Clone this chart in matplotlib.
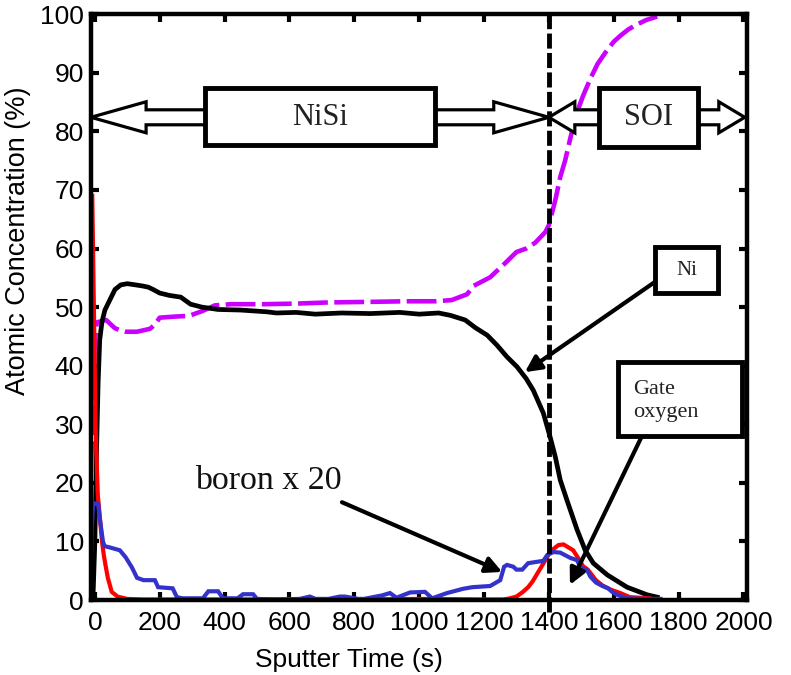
import numpy as np
import matplotlib
matplotlib.use("Agg")
import matplotlib.pyplot as plt
from matplotlib.patches import Polygon, Rectangle

# depth profile, (sputter time s, atomic concentration %)
si_profile = [
    (-12, 22), (-8, 30), (-4, 38), (0, 44), (6, 47.4), (20, 47.6), (35, 47.8),
    (50, 47), (62, 46.4), (80, 46), (95, 45.8), (130, 45.8), (170, 46.3),
    (185, 47), (200, 48.2), (250, 48.4), (290, 48.5), (330, 49.3), (370, 50.3),
    (420, 50.5), (520, 50.5), (620, 50.6), (720, 50.8), (850, 50.9), (960, 51),
    (1050, 51), (1100, 51.2), (1148, 52.2), (1167, 53.6), (1219, 55.1),
    (1265, 57.5), (1300, 59.4), (1330, 60), (1358, 61), (1389, 62.8),
    (1400, 64), (1420, 68.3), (1435, 72.2), (1450, 75), (1466, 78.8),
    (1485, 83), (1505, 86), (1528, 89), (1550, 91.5), (1575, 93.5),
    (1600, 95.3), (1620, 96.3), (1645, 97.4), (1670, 98.2), (1700, 99),
    (1734, 99.6),
]
ni_profile = [
    (-6, 0), (0, 10), (5, 25), (10, 37), (15, 44.4), (22, 47.5), (31, 49.5),
    (46, 51.2), (62, 53), (80, 53.8), (100, 54), (125, 53.8), (148, 53.6),
    (165, 53.4), (180, 53), (200, 52.4), (230, 52), (265, 51.7), (295, 50.5),
    (330, 50), (380, 49.6), (450, 49.5), (530, 49.2), (560, 49), (620, 49.1),
    (680, 48.8), (760, 49), (850, 48.9), (940, 49.1), (1000, 48.8), (1060, 49),
    (1096, 48.6), (1142, 47.8), (1173, 46.5), (1210, 45.2), (1240, 43.5),
    (1271, 41.5), (1302, 39.8), (1330, 37.8), (1352, 35.8), (1383, 31.9),
    (1404, 27.8), (1420, 24.4), (1435, 20.5), (1456, 17), (1487, 12),
    (1512, 8.5), (1537, 6.3), (1580, 4.3), (1641, 2.2), (1703, 0.9), (1734, 0.5),
]
o_profile = [
    (-8, 69), (-3, 50), (2, 30), (6, 23), (9, 18), (14, 15), (18, 12.5),
    (22, 10), (28, 7.5), (34, 5.6), (40, 3.8), (52, 1.4), (70, 0.6), (99, 0.2),
    (150, 0.1), (400, 0.1), (800, 0.1), (1000, 0.2), (1200, 0.1), (1260, 0.1),
    (1280, 0.3), (1300, 0.6), (1320, 1.4), (1336, 2.2), (1350, 3.2),
    (1364, 4.5), (1389, 6.8), (1405, 8.3), (1418, 8.9), (1430, 9.4),
    (1445, 9.5), (1460, 9), (1475, 8.5), (1490, 7.2), (1505, 5.8), (1520, 5.2),
    (1545, 3.4), (1565, 2.5), (1590, 1.8), (1620, 1.2), (1650, 0.5),
    (1680, 0.4), (1710, 0.3),
]
# boron signal, multiplied by 20
boron_profile = [
    (-12, 7), (-10, 12), (-6, 16), (0, 16.5), (10, 16.5), (15, 14), (20, 12),
    (25, 10), (30, 9.2), (45, 9), (77, 8.5), (95, 7.3), (114, 5.6), (130, 3.8),
    (150, 3.4), (185, 3.4), (195, 2.2), (240, 2), (253, 0.5), (270, 0.3),
    (333, 0.3), (350, 1.5), (380, 1.5), (395, 0.3), (440, 0.3), (457, 1),
    (488, 1), (500, 0.2), (560, 0.1), (632, 0.2), (663, 0.6), (680, 0.2),
    (720, 0.2), (756, 0.6), (771, 0.6), (812, 0.2), (830, 0.2), (886, 0.8),
    (910, 1.2), (930, 0.4), (972, 1.3), (1018, 1.4), (1040, 0.3), (1086, 1.2),
    (1127, 1.8), (1133, 1.9), (1164, 2.2), (1219, 2.4), (1250, 3.4),
    (1262, 5.7), (1271, 6), (1290, 5.7), (1300, 5.2), (1318, 5.2), (1336, 6.3),
    (1383, 6.7), (1395, 7.7), (1414, 8.2), (1435, 8.1), (1466, 7.2),
    (1487, 6.8), (1497, 5.6), (1518, 5.1), (1528, 4), (1545, 3), (1565, 2.4),
    (1583, 2), (1595, 1.4), (1611, 0.9), (1640, 0.3), (1700, 0.2), (1744, 0.2),
]

x_ticks = np.arange(0, 2001, 200)
y_ticks = np.arange(0, 101, 10)
interface_time = 1400

sans = "Liberation Sans"
serif = "Liberation Serif"
plt.rcParams["font.family"] = [sans, "DejaVu Sans"]


def double_arrow(ax, x0, x1, y, shaft, head_w, head_l):
    """Hollow two-headed arrow drawn as one outlined polygon."""
    pts = [
        (x0, y), (x0 + head_l, y + head_w), (x0 + head_l, y + shaft),
        (x1 - head_l, y + shaft), (x1 - head_l, y + head_w), (x1, y),
        (x1 - head_l, y - head_w), (x1 - head_l, y - shaft),
        (x0 + head_l, y - shaft), (x0 + head_l, y - head_w),
    ]
    ax.add_patch(Polygon(pts, closed=True, fc="white", ec="black", lw=2.3,
                         zorder=6, clip_on=False, joinstyle="miter"))


def label_box(ax, x0, y0, x1, y1, lw=3.5):
    ax.add_patch(Rectangle((x0, y0), x1 - x0, y1 - y0, fc="white", ec="black",
                           lw=lw, zorder=7, clip_on=False))


fig = plt.figure(figsize=(7.91, 6.75), dpi=100)
ax = fig.add_axes([0.115, 0.111, 0.829, 0.868])

profiles = [
    (si_profile, dict(color="#cc00ff", lw=3.3, ls=(0, (6.5, 1.4)))),
    (ni_profile, dict(color="black", lw=3.4)),
    (o_profile, dict(color="#ff0000", lw=3.0)),
    (boron_profile, dict(color="#3333cc", lw=3.0)),
]
for data, style in profiles:
    t, c = np.array(data).T
    ax.plot(t, c, zorder=3, solid_joinstyle="miter", **style)

# NiSi / SOI interface
ax.plot([interface_time, interface_time], [-2, 100], color="black", lw=3.5,
        ls=(0, (3.1, 0.9)), zorder=4, clip_on=False)

# layer extents
arrow_y = 82.4
double_arrow(ax, -12, interface_time, arrow_y, 1.28, 2.65, 170)
double_arrow(ax, interface_time, 2004, arrow_y, 1.28, 2.65, 80)
label_box(ax, 340, 77.6, 1049, 87.4)
label_box(ax, 1554, 77.4, 1860, 87.4)
ax.text(695, 82.3, "NiSi", family=serif, fontsize=22, ha="center",
        va="center", color="#222222", zorder=8)
ax.text(1707, 82.3, "SOI", family=serif, fontsize=22, ha="center",
        va="center", color="#222222", zorder=8)

# element callouts
label_box(ax, 1727, 52.4, 1921, 60.2)
ax.text(1824, 56.3, "Ni", family=serif, fontsize=15, ha="center",
        va="center", color="#222222", zorder=8)
label_box(ax, 1614, 28.0, 1997, 40.6)
ax.text(1660, 34.0, "Gate\noxygen", family=serif, fontsize=16, ha="left",
        va="center", linespacing=1.3, color="#222222", zorder=8)
ax.text(536, 20.3, "boron x 20", family=serif, fontsize=24.5, ha="center",
        va="center", color="#111111", zorder=8)

arrow_props = dict(arrowstyle="-|>", color="black", lw=3.0,
                   mutation_scale=24, shrinkA=0, shrinkB=0)
ax.annotate("", xy=(1256, 4.8), xytext=(762, 16.7),
            arrowprops=arrow_props, zorder=6)
ax.annotate("", xy=(1326, 38.9), xytext=(1727, 54.3),
            arrowprops=arrow_props, zorder=6)
ax.annotate("", xy=(1465, 2.6), xytext=(1687, 28.0),
            arrowprops=arrow_props, zorder=6)

ax.set_xlim(-12, 2010)
ax.set_ylim(0, 100)
ax.set_xticks(x_ticks)
ax.set_yticks(y_ticks)
ax.tick_params(direction="in", length=6, width=3, top=True, right=True,
               labelsize=19)
ax.tick_params(axis="x", pad=8)
ax.tick_params(axis="y", pad=5)
for spine in ax.spines.values():
    spine.set_linewidth(3.2)
    spine.set_zorder(9)

ax.set_xlabel("Sputter Time (s)", fontsize=19)
ax.set_ylabel("Atomic Concentration (%)", fontsize=19.5)
ax.xaxis.set_label_coords(0.393, -0.082)
ax.yaxis.set_label_coords(-0.091, 0.613)

fig.savefig("out.png", dpi=100)
